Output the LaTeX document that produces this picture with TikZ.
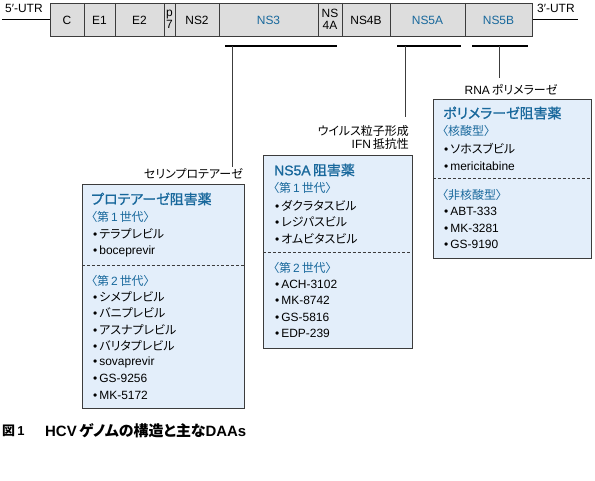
\documentclass[tikz,border=0pt]{standalone}
\usepackage{fontspec}
\setmainfont{Liberation Sans}
\newfontfamily\jpfont{Noto Sans CJK JP}[RawFeature=+palt]
\newfontfamily\jphead{Noto Sans CJK JP}[RawFeature={+palt;embolden=1.1}]
\newfontfamily\enhead{Liberation Sans}[RawFeature={embolden=1.1}]
\newcommand{\jtext}[1]{{\jpfont #1}}
\newcommand{\jhead}[1]{{\jphead #1}}
\definecolor{drugblue}{RGB}{24,104,156}
\definecolor{panelfill}{RGB}{227,238,250}
\definecolor{genefill}{RGB}{221,221,221}
\definecolor{edge}{RGB}{60,60,60}
\tikzset{
  gene/.style={draw=edge, fill=genefill, line width=0.8pt},
  panel/.style={draw=edge, fill=panelfill, line width=0.8pt, inner sep=0pt},
  glabel/.style={font=\fontsize{12}{12}\selectfont, inner sep=0pt},
  item/.style={anchor=west, font=\fontsize{12}{13}\selectfont, inner sep=0pt},
  head/.style={anchor=west, font=\fontsize{14}{16}\selectfont\enhead, text=drugblue, inner sep=0pt},
  gen/.style={item, text=drugblue},
  sep/.style={draw=edge, line width=0.5pt, dash pattern=on 3pt off 2pt},
  bracket/.style={line width=1.3pt},
  lead/.style={draw=edge, line width=0.5pt},
}
\begin{document}
\begin{tikzpicture}[x=1bp, y=-1bp]
    \useasboundingbox (0,0) rectangle (595,481);
    % genome
    \draw (2,19) -- (50,19);
    \draw (532,19) -- (578,19);
    \node[glabel, anchor=west] (utr5) at (5,8) {5′-UTR};
    \node[glabel, anchor=west] (utr3) at (537,8) {3′-UTR};
    \draw[gene] (50,3) rectangle (532,36);
    \foreach \x in {84,115,164,175,219,318,342,390,465}
        \draw[edge, line width=0.8pt] (\x,3) -- (\x,36);
    \node[glabel] (c) at (67,20) {C};
    \node[glabel] (e1) at (99.5,20) {E1};
    \node[glabel] (e2) at (139.5,20) {E2};
    \node[glabel, align=center, font=\fontsize{12}{12.5}\selectfont] (p7) at (169.5,19.5) {p\\7};
    \node[glabel] (ns2) at (197,20) {NS2};
    \node[glabel, text=drugblue] (ns3) at (268.5,20) {NS3};
    \node[glabel, align=center, font=\fontsize{12}{12.5}\selectfont] (ns4a) at (330,19.5) {NS\\4A};
    \node[glabel] (ns4b) at (366,20) {NS4B};
    \node[glabel, text=drugblue] (ns5a) at (427.5,20) {NS5A};
    \node[glabel, text=drugblue] (ns5b) at (498.5,20) {NS5B};
    % brackets and leads
    \draw[bracket] (225,46) -- (337,46);
    \draw[bracket] (397,46) -- (461,46);
    \draw[bracket] (472,46) -- (528,46);
    \coordinate (ns3b) at (232,46);
    \coordinate (ns5ab) at (405,46);
    \coordinate (ns5bb) at (499,46);
    \node[item, anchor=east] (serine) at (243,174) {\jtext{セリンプロテアーゼ}};
    \node[item, anchor=east, align=right, font=\fontsize{12}{13.5}\selectfont] (virion) at (409,137.5) {\jtext{ウイルス粒子形成}\\IFN\,\jtext{抵抗性}};
    \node[item, anchor=center] (rdrp) at (511,90) {RNA\,\jtext{ポリメラーゼ}};
    \draw[lead] (ns3b) -- ([yshift=2bp]ns3b |- serine.north);
    \draw[lead] (ns5ab) -- ([yshift=8bp]ns5ab |- virion.north);
    \draw[lead] (ns5bb) -- ([yshift=6bp]ns5bb |- rdrp.north);
    % protease inhibitors
    \node[panel, anchor=north west, minimum width=162bp, minimum height=224bp] (pibox) at (82,184) {};
    \draw[sep] (82,265) -- (244,265);
    \node[head] (pihead) at (91,199) {\jhead{プロテアーゼ阻害薬}};
    \node[gen] at (91,217) {\jtext{〈第}\,1\,\jtext{世代〉}};
    \node[item] at (93,234) {•\,\jtext{テラプレビル}};
    \node[item] at (93,251) {•\,boceprevir};
    \node[gen] at (91,281) {\jtext{〈第}\,2\,\jtext{世代〉}};
    \node[item] at (93,297) {•\,\jtext{シメプレビル}};
    \node[item] at (93,313) {•\,\jtext{バニプレビル}};
    \node[item] at (93,329.5) {•\,\jtext{アスナプレビル}};
    \node[item] at (93,346) {•\,\jtext{バリタプレビル}};
    \node[item] at (93,362) {•\,sovaprevir};
    \node[item] at (93,378.5) {•\,GS-9256};
    \node[item] at (93,395) {•\,MK-5172};
    % NS5A inhibitors
    \node[panel, anchor=north west, minimum width=149bp, minimum height=193bp] (nsabox) at (263,155) {};
    \draw[sep] (263,252) -- (412,252);
    \node[head] (nsahead) at (274,170) {NS5A\,\jhead{阻害薬}};
    \node[gen] at (273,188) {\jtext{〈第}\,1\,\jtext{世代〉}};
    \node[item] at (275,205.5) {•\,\jtext{ダクラタスビル}};
    \node[item] at (275,222) {•\,\jtext{レジパスビル}};
    \node[item] at (275,238.5) {•\,\jtext{オムビタスビル}};
    \node[gen] at (273,268) {\jtext{〈第}\,2\,\jtext{世代〉}};
    \node[item] at (275,284) {•\,ACH-3102};
    \node[item] at (275,300.5) {•\,MK-8742};
    \node[item] at (275,317) {•\,GS-5816};
    \node[item] at (275,333.5) {•\,EDP-239};
    % polymerase inhibitors
    \node[panel, anchor=north west, minimum width=158bp, minimum height=159bp] (polbox) at (433,99) {};
    \draw[sep] (433,178) -- (591,178);
    \node[head] (polhead) at (443,113) {\jhead{ポリメラーゼ阻害薬}};
    \node[gen] at (442,131) {\jtext{〈核酸型〉}};
    \node[item] at (444,149) {•\,\jtext{ソホスブビル}};
    \node[item] at (444,166) {•\,mericitabine};
    \node[gen] at (442,195) {\jtext{〈非核酸型〉}};
    \node[item] at (444,211.5) {•\,ABT-333};
    \node[item] at (444,228) {•\,MK-3281};
    \node[item] at (444,244.5) {•\,GS-9190};
    % caption
    \node[anchor=west, inner sep=0pt, font=\fontsize{13}{15}\selectfont\bfseries] (figno) at (2,431) {\jtext{図}\,1};
    \node[anchor=west, inner sep=0pt, font=\fontsize{15}{17}\selectfont\bfseries] (caption) at (45,431) {HCV\,\jtext{ゲノムの構造と主な}DAAs};
\end{tikzpicture}
\end{document}
